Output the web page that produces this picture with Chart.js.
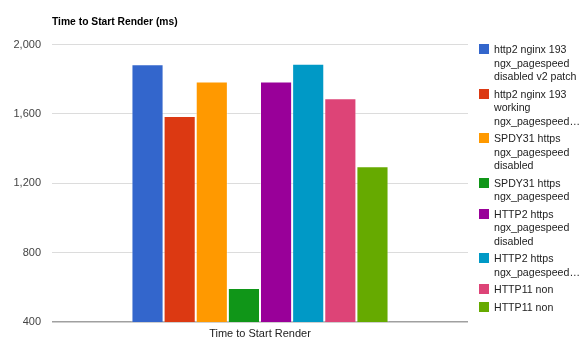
<!DOCTYPE html>
<html><head><meta charset="utf-8">
<script src="https://cdn.jsdelivr.net/npm/chart.js@4/dist/chart.umd.min.js"></script>
<style>
html,body{margin:0;padding:0;background:#fff;}
#wrap{position:relative;width:583px;height:353px;overflow:hidden;}
#legend{position:absolute;left:479px;top:43.3px;font:10.6px "Liberation Sans",Arial,sans-serif;color:#222;}
.item{position:relative;padding-left:15px;margin-bottom:4px;line-height:13.5px;white-space:pre;}
.sw{position:absolute;left:0;top:1px;width:10px;height:10px;}
</style></head><body>
<div id="wrap"><canvas id="c" width="583" height="353"></canvas><div id="legend"></div></div>
<script>
const categories = ["Time to Start Render"];
const seriesNames = [
  "http2 nginx 193\nngx_pagespeed\ndisabled v2 patch",
  "http2 nginx 193\nworking\nngx_pagespeed\u2026",
  "SPDY31 https\nngx_pagespeed\ndisabled",
  "SPDY31 https\nngx_pagespeed",
  "HTTP2 https\nngx_pagespeed\ndisabled",
  "HTTP2 https\nngx_pagespeed\u2026",
  "HTTP11 non",
  "HTTP11 non"
];
const seriesValues = [1887, 1589, 1787, 596, 1787, 1890, 1691, 1298];
const seriesColors = ["#3366cc", "#dc3912", "#ff9900", "#109618", "#990099", "#0099c6", "#dd4477", "#66aa00"];
const yTicks = [400, 800, 1200, 1600, 2000];
const chartTitle = "Time to Start Render (ms)";

const FONT = '"Liberation Sans", Arial, sans-serif';

const datasets = seriesNames.map((name, i) => ({
  label: name.replace(/\n/g, ' '),
  data: [seriesValues[i]],
  backgroundColor: seriesColors[i],
  borderColor: 'rgba(255,255,255,0.45)',
  borderWidth: 1,
  categoryPercentage: 0.618,
  barPercentage: 1.0
}));

const chart = new Chart(document.getElementById('c'), {
  type: 'bar',
  data: { labels: categories, datasets },
  options: {
    responsive: false,
    animation: false,
    layout: { padding: { left: 0, right: 115, top: 0, bottom: 0 } },
    plugins: {
      legend: { display: false },
      tooltip: { enabled: false },
      title: {
        display: true,
        text: chartTitle,
        align: 'start',
        fullSize: false,
        color: '#000',
        font: { family: FONT, size: 10.3, weight: 'bold', lineHeight: 1.2 },
        padding: { top: 16.4, bottom: 15.9 }
      }
    },
    scales: {
      x: {
        grid: { display: false, drawTicks: false },
        border: { display: false },
        ticks: { color: '#222', font: { family: FONT, size: 11 }, padding: 5 },
        afterFit: s => { s.height = 31; }
      },
      y: {
        min: yTicks[0],
        max: yTicks[yTicks.length - 1],
        afterBuildTicks: s => { s.ticks = yTicks.map(v => ({ value: v })); },
        border: { display: false },
        grid: {
          drawTicks: false,
          color: ctx => (ctx.tick && ctx.tick.value === yTicks[0]) ? '#a0a0a0' : '#dcdcdc',
          lineWidth: ctx => (ctx.tick && ctx.tick.value === yTicks[0]) ? 1.5 : 1
        },
        ticks: {
          color: '#444',
          font: { family: FONT, size: 11 },
          padding: 11,
          callback: v => Number(v).toLocaleString('en-US')
        },
        afterFit: s => { s.width = 52; }
      }
    }
  }
});

const legend = document.getElementById('legend');
chart.data.datasets.forEach((ds, i) => {
  const item = document.createElement('div');
  item.className = 'item';
  const sw = document.createElement('span');
  sw.className = 'sw';
  sw.style.background = ds.backgroundColor;
  item.appendChild(sw);
  item.appendChild(document.createTextNode(seriesNames[i]));
  legend.appendChild(item);
});
</script>
</body></html>
